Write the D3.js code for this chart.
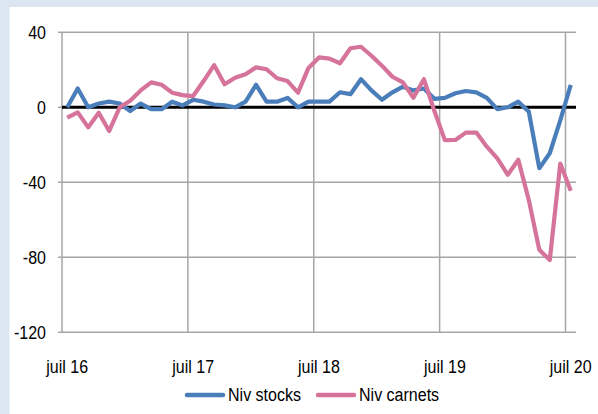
<!DOCTYPE html>
<html><head><meta charset="utf-8">
<script src="https://cdn.jsdelivr.net/npm/d3@7"></script>
<style>
html,body{margin:0;padding:0;background:#dce6f2;}
svg{display:block;}
</style></head>
<body>
<svg id="chart" width="598" height="414"></svg>
<script>
const monthNames = ["juil","août","sept","oct","nov","déc","janv","févr","mars","avr","mai","juin"];
const categories = [];
for (let i = 0; i < 49; i++) {
  const m = i % 12;
  const yr = 16 + Math.floor((i + 6) / 12);
  categories.push(monthNames[m] + " " + yr);
}
const xTickLabels = ["juil 16","juil 17","juil 18","juil 19","juil 20"];
const yTicks = [40, 0, -40, -80, -120];
const nivStocks = [0,10,0,2,3,2,-2,2,-1,-1,3,1,4,3,1.5,1,0,3,12,3,3,5,0,3,3,3,8,7,15,9,4,8,11,9,10,4.5,5,7.5,8.7,8,5,-1,0,3,-2.3,-32.5,-24.5,-7,12];
const nivCarnets = [-5.5,-2.7,-10.7,-2.9,-12.6,0,3.5,9,13.3,12,7.8,6.5,6,14,22.5,12.3,15.8,17.6,21.3,20.3,15.5,14,7.8,21,26.6,26,23.5,31.5,32.3,27.5,22.2,16.3,13.3,5.1,15,-2,-17.5,-17.4,-13.5,-13.5,-21,-27.2,-36,-28,-49.4,-76,-81.5,-30,-44.5];
const seriesNames = ["Niv stocks","Niv carnets"];
const seriesColors = ["#4a7ebb","#d6739a"];

const svg = d3.select("#chart");
svg.append("rect").attr("x",9.5).attr("y",7).attr("width",598-9.5).attr("height",414-7).attr("fill","#ffffff");

const x = d3.scaleBand().domain(categories).range([62, 576]).padding(0);
const y = d3.scaleLinear().domain([-120, 40]).range([332.3, 32.3]);
const cx = c => x(c) + x.bandwidth()/2;
const font = "'Liberation Sans',Arial,sans-serif";
const condense = sel => sel.each(function(){
  const w = this.getComputedTextLength();
  d3.select(this).attr("textLength", w*0.89).attr("lengthAdjust","spacingAndGlyphs");
});

// horizontal gridlines
svg.append("g").selectAll("line").data(yTicks.filter(v=>v!==0)).join("line")
  .attr("x1",58).attr("x2",576).attr("y1",d=>y(d)).attr("y2",d=>y(d))
  .attr("stroke","#a6a6a6").attr("stroke-width",1.5);
svg.append("line").attr("x1",58).attr("x2",62).attr("y1",y(0)).attr("y2",y(0)).attr("stroke","#a6a6a6").attr("stroke-width",1.5);
// vertical gridlines
svg.append("g").selectAll("line").data(xTickLabels).join("line")
  .attr("x1",d=>x(d)).attr("x2",d=>x(d)).attr("y1",y(40)).attr("y2",y(-120))
  .attr("stroke","#a6a6a6").attr("stroke-width",1.5);

// y labels
svg.append("g").selectAll("text").data(yTicks).join("text")
  .attr("x",46).attr("y",d=>y(d)).attr("dy","0.35em").attr("text-anchor","end")
  .attr("font-family",font).attr("font-size",18).attr("fill","#000").text(d=>d).call(condense);
// x labels
svg.append("g").selectAll("text").data(xTickLabels).join("text")
  .attr("x",d=>cx(d)).attr("y",373).attr("text-anchor","middle")
  .attr("font-family",font).attr("font-size",18).attr("fill","#000").text(d=>d).call(condense);

// zero line
svg.append("line").attr("x1",62).attr("x2",576).attr("y1",y(0)).attr("y2",y(0)).attr("stroke","#000").attr("stroke-width",3);

const line = d3.line().x((d,i)=>cx(categories[i])).y(d=>y(d));
[nivStocks, nivCarnets].forEach((s,k)=>{
  svg.append("path").datum(s).attr("d",line).attr("fill","none")
    .attr("stroke",seriesColors[k]).attr("stroke-width",4.2)
    .attr("stroke-linejoin","round").attr("stroke-linecap","butt");
});

// legend
const legX = [187, 318];
seriesNames.forEach((n,k)=>{
  svg.append("line").attr("x1",legX[k]).attr("x2",legX[k]+36).attr("y1",395).attr("y2",395)
    .attr("stroke",seriesColors[k]).attr("stroke-width",4.5).attr("stroke-linecap","round");
  svg.append("text").attr("x",legX[k]+41).attr("y",395).attr("dy","0.35em")
    .attr("font-family",font).attr("font-size",18).attr("fill","#000").text(n).call(condense);
});
</script>
</body></html>
